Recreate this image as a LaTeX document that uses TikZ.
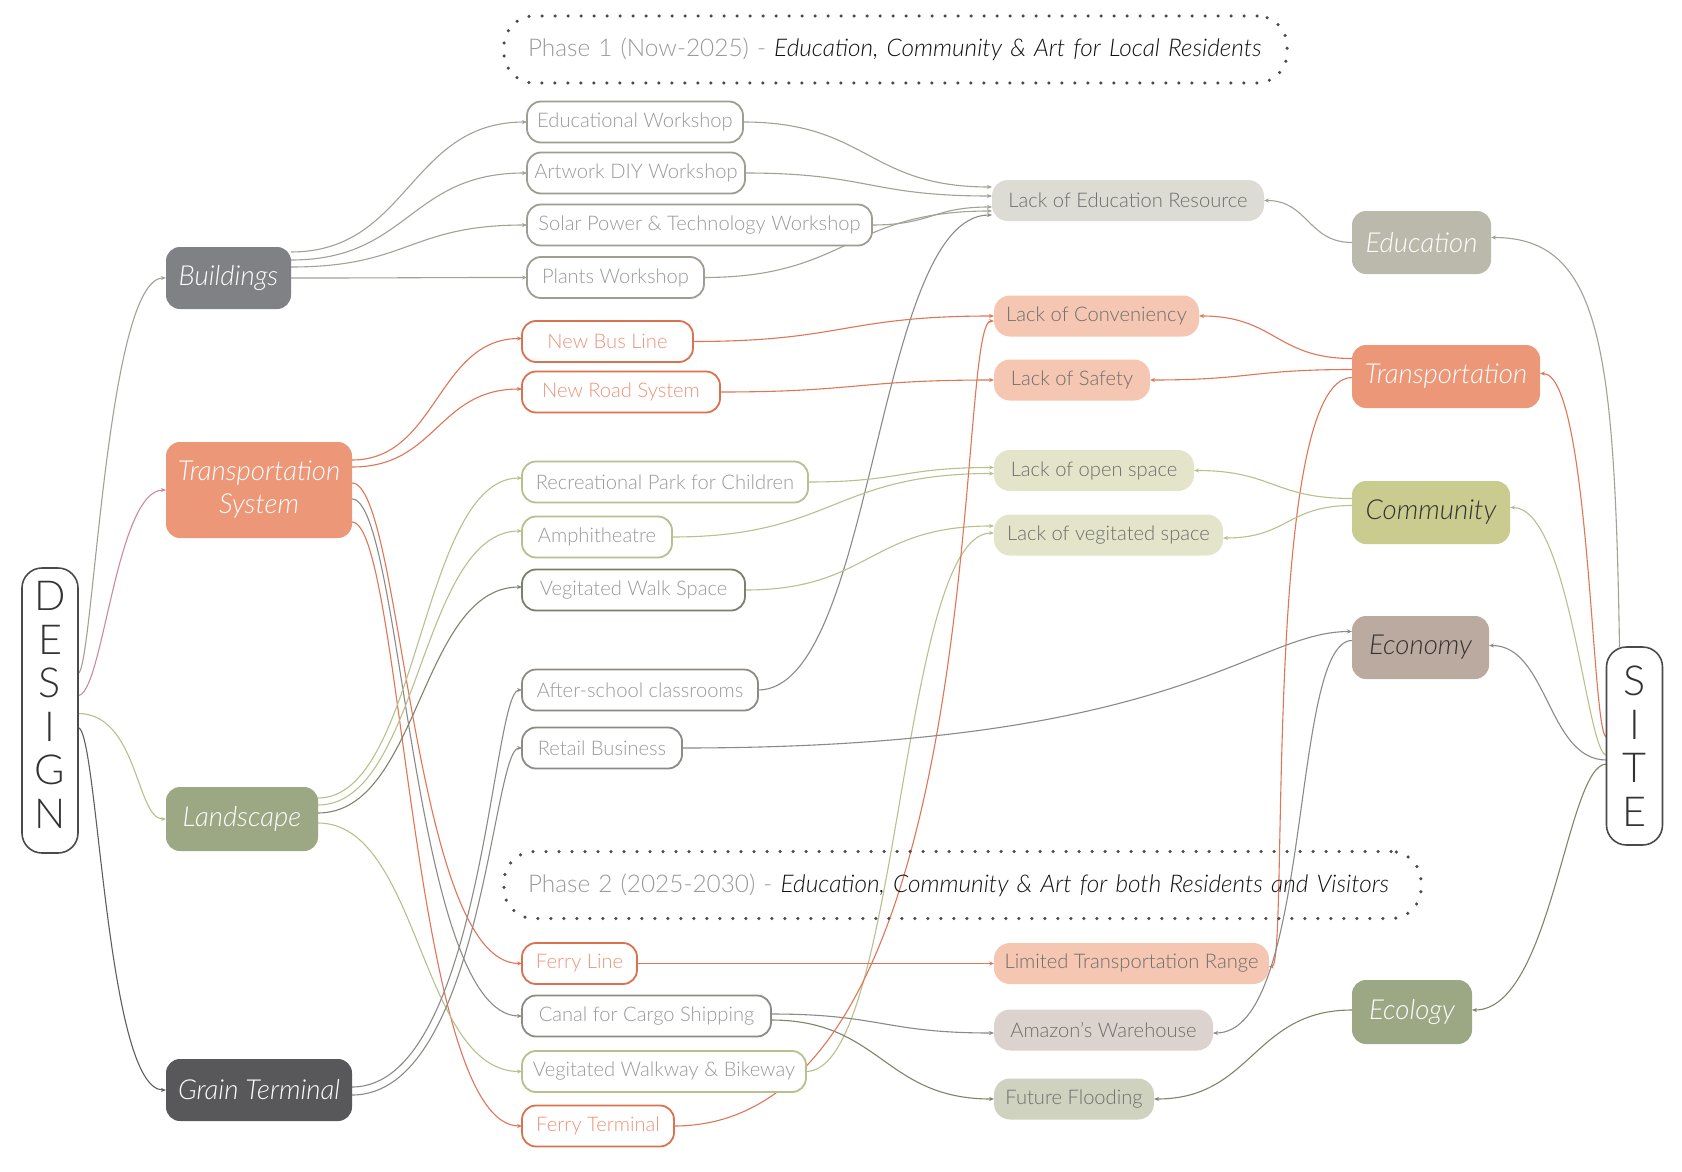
\documentclass[tikz,border=0pt]{standalone}
\usepackage{fontspec}
\IfFontExistsTF{Lato Light}{%
  \IfFontExistsTF{Lato Light Italic}{%
    \setmainfont{Lato Light}[ItalicFont={Lato Light Italic},Scale=1.06]}{%
    \setmainfont{TeX Gyre Heros}}}{%
  \setmainfont{TeX Gyre Heros}}
\usetikzlibrary{arrows.meta,calc,backgrounds}
\definecolor{oBld}{HTML}{9E9C93}
\definecolor{oTr}{HTML}{D9734F}
\definecolor{oLs}{HTML}{B7C08E}
\definecolor{oLsD}{HTML}{79816A}
\definecolor{oGr}{HTML}{8E8A86}
\definecolor{tGray}{HTML}{999999}
\definecolor{tOr}{HTML}{EA9478}
\definecolor{tProb}{HTML}{6E6E6E}
\definecolor{fBld}{HTML}{808184}
\definecolor{fTr}{HTML}{EC9878}
\definecolor{fLs}{HTML}{9CA883}
\definecolor{fGr}{HTML}{58585A}
\definecolor{fEdu}{HTML}{BAB9AB}
\definecolor{fCom}{HTML}{CACB8F}
\definecolor{fEco}{HTML}{BBAAA0}
\definecolor{pEdu}{HTML}{DCDBD4}
\definecolor{pTr}{HTML}{F5C6B1}
\definecolor{pCom}{HTML}{E3E4C9}
\definecolor{pAmz}{HTML}{DDD3CE}
\definecolor{pFl}{HTML}{D0D2C0}
\definecolor{lGray}{HTML}{A2A198}
\definecolor{lOr}{HTML}{DE7657}
\definecolor{lGr}{HTML}{B8C18C}
\definecolor{lGrD}{HTML}{7D856A}
\definecolor{lDk}{HTML}{8C8A86}
\definecolor{lPink}{HTML}{C98AA0}
\definecolor{lDes}{HTML}{5E5E5E}
\definecolor{edgeC}{HTML}{4A4A4A}
\definecolor{ttDark}{HTML}{333333}
\definecolor{phGray}{HTML}{9A9A9A}
\definecolor{phDark}{HTML}{111111}
\begin{document}
\begin{tikzpicture}[x=1pt,y=-1pt,
  every node/.style={inner sep=0pt, outer sep=0pt},
  obox/.style={draw=#1, fill=white, line width=1.8pt, rounded corners=14pt, minimum height=41pt, font=\fontsize{19}{22}\selectfont, text=tGray},
  pbox/.style={fill=#1, rounded corners=16pt, minimum height=41pt, font=\fontsize{19}{22}\selectfont, text=tProb},
  cat/.style={fill=#1, rounded corners=14pt, text=white, font=\fontsize{26}{33}\selectfont\itshape, align=center},
  spine/.style={draw=edgeC, line width=1.6pt, rounded corners=20pt, minimum width=56pt, align=center, font=\fontsize{39}{43.5}\selectfont, text=ttDark},
  phase/.style={draw=edgeC, line width=3.5pt, dash pattern=on 0pt off 13pt, line cap=round, rounded corners=30pt, minimum height=67pt, inner xsep=24pt, align=left, font=\fontsize{23}{28}\selectfont},
  ln/.style={draw=#1, line width=1.1pt, -{Stealth[length=5pt,width=4pt]}}
]
\useasboundingbox (0,0) rectangle (1682,1172);
\begin{scope}[on background layer]
\fill[white] (0,0) rectangle (1682,1172);
\end{scope}

% phase boxes
\node[phase, text width=735pt] (ph1) at (895.5,49.5) {\textcolor{phGray}{Phase 1 (Now-2025) - }\textcolor{phDark}{\textit{Education, Community \& Art for Local Residents}}};
\node[phase, text width=869pt] (ph2) at (962.5,885) {\textcolor{phGray}{Phase 2 (2025-2030) - }\textcolor{phDark}{\textit{Education, Community \& Art for both Residents and Visitors}}};

% spines
\node[spine, minimum height=285pt, text depth=11pt] (des) at (50,710.5) {D\\E\\S\\I\\G\\N};
\node[spine, minimum height=198pt] (site) at (1634.5,746) {S\\I\\T\\E};

% design categories
\node[cat=fBld, minimum width=125pt, minimum height=62pt] (bld) at (228.5,278) {Buildings};
\node[cat=fTr, minimum width=186pt, minimum height=96pt] (tsy) at (259,490) {Transportation\\System};
\node[cat=fLs, minimum width=152pt, minimum height=64pt] (lnd) at (242,819) {Landscape};
\node[cat=fGr, minimum width=186pt, minimum height=62pt] (grn) at (259,1090) {Grain Terminal};

% site categories
\node[cat=fEdu, minimum width=139pt, minimum height=63pt] (edu) at (1421.5,242.5) {Education};
\node[cat=fTr, minimum width=188pt, minimum height=63pt] (trs) at (1446,376.5) {Transportation};
\node[cat=fCom, text=ttDark, minimum width=158pt, minimum height=63pt] (com) at (1431,512.5) {Community};
\node[cat=fEco, text=ttDark, minimum width=137pt, minimum height=63pt] (eco) at (1420.5,647.5) {Economy};
\node[cat=fLs, minimum width=120pt, minimum height=64pt] (ecl) at (1412,1012) {Ecology};

% design items
\node[obox=oBld, minimum width=216pt] (edw) at (635,122) {Educational Workshop};
\node[obox=oBld, minimum width=218pt] (art) at (636,173) {Artwork DIY Workshop};
\node[obox=oBld, minimum width=345pt] (sol) at (699.5,225) {Solar Power \& Technology Workshop};
\node[obox=oBld, minimum width=177pt] (pla) at (615.5,277.5) {Plants Workshop};
\node[obox=oTr, text=tOr, minimum width=171pt] (bus) at (607.5,341.5) {New Bus Line};
\node[obox=oTr, text=tOr, minimum width=198pt] (road) at (621,392) {New Road System};
\node[obox=oLs, minimum width=286pt] (rec) at (665,482) {Recreational Park for Children};
\node[obox=oLs, minimum width=150pt] (amp) at (597,537) {Amphitheatre};
\node[obox=oLsD, minimum width=223pt] (vws) at (633.5,590) {Vegitated Walk Space};
\node[obox=oGr, minimum width=236pt] (asc) at (640,690) {After-school classrooms};
\node[obox=oGr, minimum width=160pt] (ret) at (602,748) {Retail Business};
\node[obox=oTr, text=tOr, minimum width=115pt] (fl) at (579.5,963.5) {Ferry Line};
\node[obox=oGr, minimum width=249pt] (can) at (646.5,1016) {Canal for Cargo Shipping};
\node[obox=oLs, minimum width=284pt] (vwb) at (664,1071.5) {Vegitated Walkway \& Bikeway};
\node[obox=oTr, text=tOr, minimum width=152pt] (ft) at (598,1126) {Ferry Terminal};

% site problems
\node[pbox=pEdu, minimum width=272pt] (ler) at (1128,200.5) {Lack of Education Resource};
\node[pbox=pTr, minimum width=205pt] (loc) at (1096.5,316) {Lack of Conveniency};
\node[pbox=pTr, minimum width=156pt] (los) at (1072,380) {Lack of Safety};
\node[pbox=pCom, minimum width=200pt] (loo) at (1094,470.5) {Lack of open space};
\node[pbox=pCom, minimum width=229pt] (lov) at (1108.5,535) {Lack of vegitated space};
\node[pbox=pTr, minimum width=275pt] (ltr) at (1131.5,963.5) {Limited Transportation Range};
\node[pbox=pAmz, minimum width=219pt] (amz) at (1103.5,1030) {Amazon's Warehouse};
\node[pbox=pFl, minimum width=160pt] (ffl) at (1074,1099) {Future Flooding};

\begin{scope}[on background layer]
% DESIGN -> categories
\draw[ln=lGray] ($(des.east)+(0,-37)$) .. controls +(15,0) and +(-60,0) .. (bld.west);
\draw[ln=lPink] ($(des.east)+(0,-15)$) .. controls +(25,0) and +(-50,0) .. (tsy.west);
\draw[ln=lGr] ($(des.east)+(0,3)$) .. controls +(60,0) and +(-30,0) .. (lnd.west);
\draw[ln=lDes] ($(des.east)+(0,17)$) .. controls +(20,0) and +(-60,0) .. (grn.west);
% Buildings
\draw[ln=lGray] ($(bld.east)+(0,-26)$) .. controls +(118,0) and +(-118,0) .. (edw.west);
\draw[ln=lGray] ($(bld.east)+(0,-18)$) .. controls +(118,0) and +(-118,0) .. (art.west);
\draw[ln=lGray] ($(bld.east)+(0,-11)$) .. controls +(118,0) and +(-118,0) .. (sol.west);
\draw[ln=lGray] (bld.east) .. controls +(118,0) and +(-118,0) .. (pla.west);
% Transportation System
\draw[ln=lOr] ($(tsy.east)+(0,-30)$) .. controls +(85,0) and +(-85,0) .. ($(bus.west)+(0,-3)$);
\draw[ln=lOr] ($(tsy.east)+(0,-23)$) .. controls +(85,0) and +(-85,0) .. ($(road.west)+(0,-3)$);
\draw[ln=lOr] ($(tsy.east)+(0,-7)$) .. controls +(50,0) and +(-110,0) .. (fl.west);
\draw[ln=lDk] ($(tsy.east)+(0,9)$) .. controls +(50,0) and +(-110,0) .. (can.west);
\draw[ln=lOr] ($(tsy.east)+(0,32)$) .. controls +(50,0) and +(-110,0) .. (ft.west);
% Landscape
\draw[ln=lGr] ($(lnd.east)+(0,-21)$) .. controls +(102,0) and +(-102,0) .. ($(rec.west)+(0,-4)$);
\draw[ln=lGr] ($(lnd.east)+(0,-14)$) .. controls +(102,0) and +(-102,0) .. ($(amp.west)+(0,-6)$);
\draw[ln=lGrD] ($(lnd.east)+(0,-6)$) .. controls +(102,0) and +(-102,0) .. ($(vws.west)+(0,-3)$);
\draw[ln=lGr] ($(lnd.east)+(0,4)$) .. controls +(102,0) and +(-102,0) .. (vwb.west);
% Grain Terminal
\draw[ln=lDk] ($(grn.east)+(0,-3)$) .. controls +(130,0) and +(-30,0) .. (asc.west);
\draw[ln=lDk] ($(grn.east)+(0,5)$) .. controls +(130,0) and +(-30,0) .. (ret.west);
% items -> problems
\draw[ln=lGray] (edw.east) .. controls +(125,0) and +(-125,0) .. ($(ler.west)+(0,-13.5)$);
\draw[ln=lGray] (art.east) .. controls +(123,0) and +(-123,0) .. ($(ler.west)+(0,-4.5)$);
\draw[ln=lGray] (sol.east) .. controls +(60,0) and +(-60,0) .. ($(ler.west)+(0,6.5)$);
\draw[ln=lGray] (pla.east) .. controls +(144,0) and +(-144,0) .. ($(ler.west)+(0,10.5)$);
\draw[ln=lDk] (asc.east) .. controls +(117,0) and +(-117,0) .. ($(ler.west)+(0,14.5)$);
\draw[ln=lOr] (bus.east) .. controls +(150,0) and +(-150,0) .. (loc.west);
\draw[ln=lOr] (road.east) .. controls +(137,0) and +(-137,0) .. (los.west);
\draw[ln=lGr] (rec.east) .. controls +(93,0) and +(-93,0) .. ($(loo.west)+(0,-3)$);
\draw[ln=lGr] (amp.east) .. controls +(161,0) and +(-161,0) .. ($(loo.west)+(0,3)$);
\draw[ln=lGr] (vws.east) .. controls +(125,0) and +(-125,0) .. ($(lov.west)+(0,-9)$);
\draw[ln=lGr] (vwb.east) .. controls +(94,0) and +(-94,0) .. ($(lov.west)+(0,-2)$);
\draw[ln=lOr] (fl.east) -- (ltr.west);
\draw[ln=lDk] ($(can.east)+(0,-2)$) .. controls +(110,0) and +(-110,0) .. ($(amz.west)+(0,3)$);
\draw[ln=lGrD] ($(can.east)+(0,4)$) .. controls +(110,0) and +(-110,0) .. (ffl.west);
\draw[ln=lOr] (ft.east) .. controls +(320,0) and +(-40,0) .. ($(loc.west)+(0,5)$);
\draw[ln=lDk] (ret.east) .. controls +(500,0) and +(-100,0) .. ($(eco.west)+(0,-16)$);
% site categories -> problems
\draw[ln=lGray] (edu.west) .. controls +(-44,0) and +(44,0) .. (ler.east);
\draw[ln=lOr] ($(trs.west)+(0,-18)$) .. controls +(-76,0) and +(76,0) .. (loc.east);
\draw[ln=lOr] ($(trs.west)+(0,-7)$) .. controls +(-100,0) and +(100,0) .. (los.east);
\draw[ln=lOr] ($(trs.west)+(0,1)$) .. controls +(-90,0) and +(20,0) .. ($(ltr.east)+(0,3)$);
\draw[ln=lGr] ($(com.west)+(0,-14)$) .. controls +(-79,0) and +(79,0) .. (loo.east);
\draw[ln=lGr] ($(com.west)+(0,-7)$) .. controls +(-65,0) and +(65,0) .. ($(lov.east)+(0,3)$);
\draw[ln=lDk] ($(eco.west)+(0,-7)$) .. controls +(-62,0) and +(100,0) .. ($(amz.east)+(0,3)$);
\draw[ln=lGrD] ($(ecl.west)+(0,-2)$) .. controls +(-99,0) and +(99,0) .. (ffl.east);
% SITE -> categories
\draw[ln=lGray] ($(site.north west)+(13,0)$) .. controls +(-5,-300) and +(110,0) .. ($(edu.east)+(0,-5)$);
\draw[ln=lOr] ($(site.west)+(0,-9)$) .. controls +(-15,0) and +(50,0) .. ($(trs.east)+(0,-3)$);
\draw[ln=lGr] ($(site.west)+(0,9)$) .. controls +(-20,0) and +(60,0) .. ($(com.east)+(0,-5)$);
\draw[ln=lDk] ($(site.west)+(0,14)$) .. controls +(-59,0) and +(59,0) .. ($(eco.east)+(0,-2)$);
\draw[ln=lGrD] ($(site.west)+(0,18)$) .. controls +(-40,0) and +(80,0) .. ($(ecl.east)+(0,-2)$);
\end{scope}
\end{tikzpicture}
\end{document}
